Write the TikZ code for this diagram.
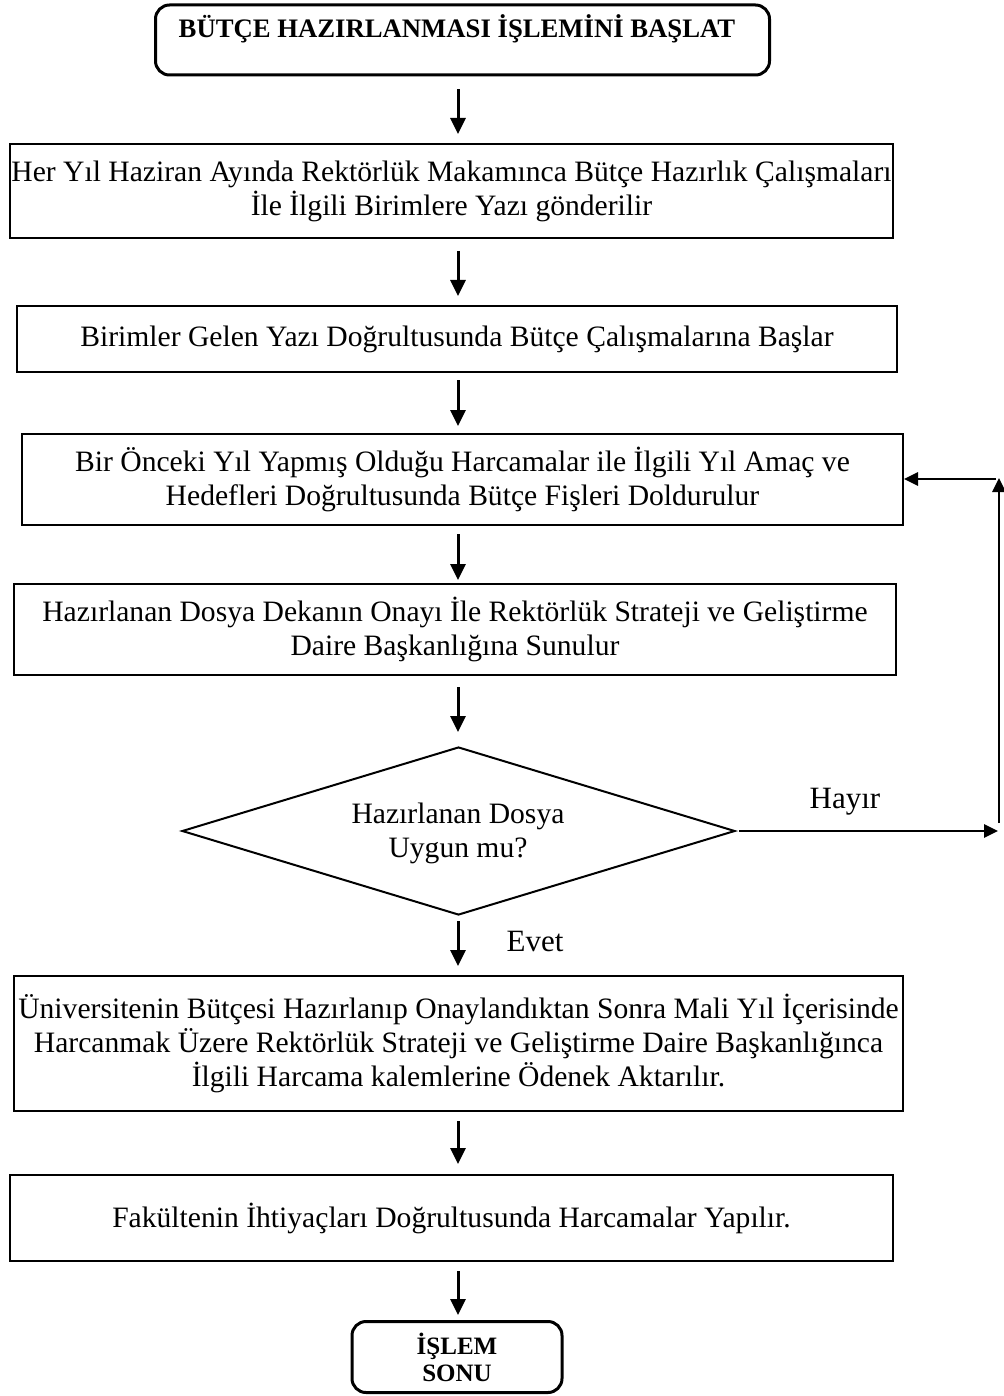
\documentclass[tikz,border=0pt]{standalone}
\usepackage{fontspec}
\setmainfont{Liberation Serif}
\usetikzlibrary{shapes.geometric,arrows.meta}
\begin{document}
\begin{tikzpicture}[x=1pt,y=-1pt,
  txt/.style={font=\fontsize{29.6}{34}\selectfont, align=center},
  procbox/.style={txt, draw, line width=2pt, inner sep=0pt},
  termbox/.style={draw, line width=3pt, rounded corners=14pt, inner sep=0pt},
  boldtxt/.style={font=\fontsize{26.7}{32}\selectfont\bfseries, align=center},
  decbox/.style={txt, draw, diamond, line width=2pt, inner sep=0pt},
  arr/.style={line width=3pt, -{Triangle[length=16pt,width=15pt]}},
  looparr/.style={line width=2.8pt, -{Triangle[length=14pt,width=13pt]}},
  lbl/.style={font=\fontsize{31}{34}\selectfont, inner sep=0pt}
]
\useasboundingbox (0,0) rectangle (1003,1396);
\coordinate (spine) at (458,0);

% start terminal
\node[termbox, minimum width=614pt, minimum height=70pt] (start) at (462.5,40) {};
\node[boldtxt, inner sep=0pt] (starttxt) at (457,29) {BÜTÇE HAZIRLANMASI İŞLEMİNİ BAŞLAT};

% process steps
\node[procbox, minimum width=883pt, minimum height=94pt] (b1) at (451.5,191)
  {Her Yıl Haziran Ayında Rektörlük Makamınca Bütçe Hazırlık Çalışmaları\\İle İlgili Birimlere Yazı gönderilir};
\node[procbox, minimum width=880pt, minimum height=66pt] (b2) at (457,339)
  {Birimler Gelen Yazı Doğrultusunda Bütçe Çalışmalarına Başlar};
\node[procbox, minimum width=881pt, minimum height=91pt] (b3) at (462.5,479.5)
  {Bir Önceki Yıl Yapmış Olduğu Harcamalar ile İlgili Yıl Amaç ve\\Hedefleri Doğrultusunda Bütçe Fişleri Doldurulur};
\node[procbox, minimum width=882pt, minimum height=91pt] (b4) at (455,629.5)
  {Hazırlanan Dosya Dekanın Onayı İle Rektörlük Strateji ve Geliştirme\\Daire Başkanlığına Sunulur};

% decision
\node[decbox, minimum width=553pt, minimum height=168pt] (d) at (458.5,831) {};
\node[txt, inner sep=0pt] (dtxt) at (458,833) {Hazırlanan Dosya\\Uygun mu?};

\node[procbox, minimum width=889pt, minimum height=135pt] (b5) at (458.5,1043.5)
  {Üniversitenin Bütçesi Hazırlanıp Onaylandıktan Sonra Mali Yıl İçerisinde\\Harcanmak Üzere Rektörlük Strateji ve Geliştirme Daire Başkanlığınca\\İlgili Harcama kalemlerine Ödenek Aktarılır.};
\node[procbox, minimum width=883pt, minimum height=86pt] (b6) at (451.5,1218)
  {Fakültenin İhtiyaçları Doğrultusunda Harcamalar Yapılır.};

% end terminal
\node[termbox, font=\fontsize{25}{27}\selectfont\bfseries, align=center,
      minimum width=210pt, minimum height=71pt] (end) at (457,1357)
  {İŞLEM\\SONU};

% main flow
\draw[arr, shorten <=13pt, shorten >=9pt] (start.south -| spine) -- (b1.north -| spine);
\draw[arr, shorten <=12pt, shorten >=9pt] (b1.south -| spine) -- (b2.north -| spine);
\draw[arr, shorten <=7pt, shorten >=7pt] (b2.south -| spine) -- (b3.north -| spine);
\draw[arr, shorten <=8pt, shorten >=3pt] (b3.south -| spine) -- (b4.north -| spine);
\draw[arr, shorten <=11pt, shorten >=14pt] (b4.south -| spine) -- (d.north -| spine);
\draw[arr, shorten <=5pt, shorten >=9pt] (d.south -| spine) -- (b5.north -| spine);
\draw[arr, shorten <=9pt, shorten >=10pt] (b5.south -| spine) -- (b6.north -| spine);
\draw[arr, shorten <=9pt, shorten >=5pt] (b6.south -| spine) -- (end.north -| spine);

\node[lbl] (evet) at (535,941) {Evet};

% rejection loop
\coordinate (rb) at (999,823);
\coordinate (rt) at (999,478);
\coordinate (rc) at (996,479);
\coordinate (ra) at (998,830);
\draw[looparr, shorten <=3pt] (d.east) -- (d.east -| ra);
\draw[looparr] (rb) -- (rt);
\draw[looparr] (rc) -- (b3.east |- rc);
\node[lbl] (hayir) at (845,802) {Hayır};
\end{tikzpicture}
\end{document}
